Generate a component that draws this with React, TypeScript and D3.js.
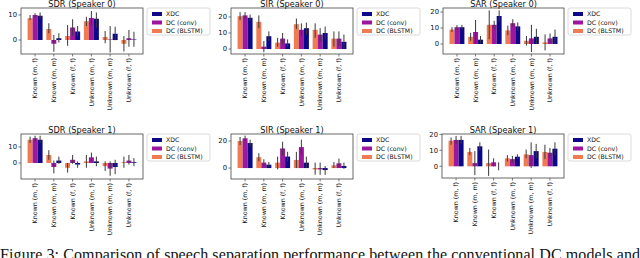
import React from 'react';
import * as d3 from 'd3';

// categories and series
const groups = ['Known (m, f)', 'Known (m, m)', 'Known (f, f)', 'Unknown (m, f)', 'Unknown (m, m)', 'Unknown (f, f)'];
const seriesNames = ['DC (BLSTM)', 'DC (conv)', 'XDC'];
const legendOrder = ['XDC', 'DC (conv)', 'DC (BLSTM)'];
const colors: Record<string, string> = { 'XDC': '#0d0887', 'DC (conv)': '#9c179e', 'DC (BLSTM)': '#f07a51' };

// values: [BLSTM, conv, XDC] per group, errors as [lo, hi]
const sdr0 = [[8.7, 10, 9.7], [4.4, -1.5, 0.7], [1.6, 5, 3.4], [7.5, 8.8, 8.5], [1.2, 0.2, 2.5], [-1.5, 0.7, 0.2]];
const sdr0Err = [[[8, 10], [9, 10.7], [8.4, 11]], [[2.7, 6.7], [-4.7, 2], [-1, 2.7]], [[-2.3, 6], [1.7, 8.3], [1.7, 5.6]], [[5.6, 9.3], [5.7, 11.6], [5, 11]], [[-1.3, 3.6], [-5, 5.6], [-0.1, 5.3]], [[-4.6, 1.6], [-2.7, 4], [-2.7, 3.3]]];

const sir0 = [[20.5, 21, 19.5], [17, 1.5, 8], [4, 6.5, 3.5], [15.5, 12, 13], [12, 9, 10], [6.5, 6.5, 4.5]];
const sir0Err = [[[18, 23], [19, 23], [17.5, 21.5]], [[13, 21], [-2, 5], [5, 11]], [[1.5, 7], [3, 10], [1.5, 6]], [[12.5, 19], [8, 16], [9, 16.5]], [[7, 16], [5, 13], [6, 14]], [[1.5, 11], [2, 11], [0, 9]]];

const sar0 = [[9, 10.5, 10.5], [4.5, 7.5, 2.7], [12, 12, 17.5], [8.5, 13, 11], [2, 3.5, 4.5], [1, 3.5, 4.5]];
const sar0Err = [[[7.5, 10.5], [9, 11.8], [9, 12]], [[2, 7], [0, 15], [0.5, 5]], [[3, 21], [9.5, 14.5], [14, 21]], [[5.5, 11.5], [11, 15.5], [8.5, 13.5]], [[-1, 5], [-5, 12], [0, 9.5]], [[-4, 6], [1, 6.5], [0, 9]]];

const sdr1 = [[14.5, 15.5, 14.5], [5, -2.5, 1.5], [-3, 2, -1], [1, 3.5, 1], [-2, -3.5, -2.5], [0.5, 1.5, 0.5]];
const sdr1Err = [[[12.5, 16.5], [13.5, 17], [12.5, 17]], [[2, 8], [-6.5, 1.5], [-0.5, 4]], [[-6, 0], [-0.5, 5], [-3, 1]], [[-3, 5], [1, 6.5], [-2, 4]], [[-5, 1], [-8, 1], [-7, 2]], [[-3, 4], [-1, 5], [-2, 3]]];

const sir1 = [[20, 22, 18.5], [8, 4, 2.5], [4, 14.5, 8.5], [6, 15.5, 4], [-1, -1, -1.5], [2, 3.5, 1.5]];
const sir1Err = [[[17, 23], [20, 24], [16, 21]], [[5, 11], [1.5, 6.5], [0.5, 4.5]], [[-1, 8.5], [9.5, 19.5], [5, 12]], [[0, 12], [10, 21], [0, 8.5]], [[-5, 4], [-5, 4], [-5, 1.5]], [[0, 4.5], [0.5, 7], [-0.5, 4]]];

const sar1 = [[16, 16.5, 16.5], [9, 2, 12.5], [2, 2.5, 0], [5, 4.5, 6], [7.5, 7, 9.5], [9, 8.5, 11]];
const sar1Err = [[[13.5, 18], [14, 19], [14, 19]], [[7, 11.5], [-5.5, 9.5], [10, 15]], [[-6, 10.5], [0, 5], [-2.5, 2.5]], [[3, 7], [2.5, 6.5], [4.5, 7.5]], [[5, 10.5], [-1, 15], [5, 14]], [[4.5, 13.5], [5.5, 11.5], [7, 15]]];

const caption = 'Figure 3: Comparison of speech separation performance between the conventional DC models and';

interface PanelDef {
  title: string;
  values: number[][];
  errs: number[][][];
  yDomain: [number, number];
  yTicks: number[];
  x0: number; x1: number; y0: number; y1: number;
}

const panels: PanelDef[] = [
  { title: 'SDR (Speaker 0)', values: sdr0, errs: sdr0Err, yDomain: [-5.6, 12.8], yTicks: [0, 10], x0: 21, x1: 143, y0: 8, y1: 54 },
  { title: 'SIR (Speaker 0)', values: sir0, errs: sir0Err, yDomain: [-3.1, 25.6], yTicks: [0, 10, 20], x0: 231, x1: 353, y0: 8, y1: 54 },
  { title: 'SAR (Speaker 0)', values: sar0, errs: sar0Err, yDomain: [-6.25, 22.5], yTicks: [0, 10, 20], x0: 443, x1: 564, y0: 8, y1: 54 },
  { title: 'SDR (Speaker 1)', values: sdr1, errs: sdr1Err, yDomain: [-10, 18.1], yTicks: [0, 10], x0: 21, x1: 143, y0: 134, y1: 179 },
  { title: 'SIR (Speaker 1)', values: sir1, errs: sir1Err, yDomain: [-8.1, 25.2], yTicks: [0, 20], x0: 231, x1: 353, y0: 134, y1: 179 },
  { title: 'SAR (Speaker 1)', values: sar1, errs: sar1Err, yDomain: [-7.3, 20.2], yTicks: [0, 10, 20], x0: 442, x1: 564, y0: 134, y1: 178 },
];

const FONT = 'DejaVu Sans, sans-serif';

const Panel: React.FC<{ p: PanelDef }> = ({ p }) => {
  const x = d3.scaleLinear().domain([-0.75, groups.length - 0.25]).range([p.x0, p.x1]);
  const y = d3.scaleLinear().domain(p.yDomain).range([p.y1, p.y0]);
  const bw = 0.8 / 3;
  const px = (v: number) => Math.abs(x(v) - x(0));
  const lx = p.x1 + 4;
  const ly = p.y0;

  return (
    <g>
      {/* bars */}
      {groups.map((g, gi) =>
        seriesNames.map((s, si) => {
          const v = p.values[gi][si];
          const cx = gi - 0.4 + bw * (si + 0.5);
          return (
            <rect key={g + s} x={x(cx - bw / 2)} width={px(bw)}
              y={Math.min(y(v), y(0))} height={Math.abs(y(v) - y(0))}
              fill={colors[s]} />
          );
        })
      )}
      {/* error bars */}
      {groups.map((g, gi) =>
        seriesNames.map((s, si) => {
          const [lo, hi] = p.errs[gi][si];
          const cx = x(gi - 0.4 + bw * (si + 0.5));
          return <line key={'e' + g + s} x1={cx} x2={cx} y1={y(lo)} y2={y(hi)} stroke="#3a3a3a" strokeWidth={1} />;
        })
      )}
      {/* frame */}
      <rect x={p.x0} y={p.y0} width={p.x1 - p.x0} height={p.y1 - p.y0} fill="none" stroke="#444" strokeWidth={0.8} />
      {/* y ticks */}
      {p.yTicks.map(t => (
        <g key={t}>
          <line x1={p.x0 - 2.5} x2={p.x0} y1={y(t)} y2={y(t)} stroke="#444" strokeWidth={0.7} />
          <text x={p.x0 - 4} y={y(t)} dy="0.35em" fontSize={6.8} fontFamily={FONT} textAnchor="end" fill="#111">{t}</text>
        </g>
      ))}
      {/* x ticks */}
      {groups.map((g, gi) => (
        <g key={'x' + g}>
          <line x1={x(gi)} x2={x(gi)} y1={p.y1} y2={p.y1 + 2.5} stroke="#444" strokeWidth={0.7} />
          <text transform={`translate(${x(gi)},${p.y1 + 4}) rotate(-90)`} dy="0.35em" fontSize={6.3}
            fontFamily={FONT} textAnchor="end" fill="#111">{g}</text>
        </g>
      ))}
      {/* title */}
      <text x={(p.x0 + p.x1) / 2} y={p.y0 - 0.8} fontSize={8.2} fontFamily={FONT} textAnchor="middle" fill="#111">{p.title}</text>
      {/* legend */}
      <rect x={lx} y={ly} width={63} height={27} rx={2} fill="#fff" stroke="#d0d0d0" strokeWidth={0.8} />
      {legendOrder.map((s, i) => (
        <g key={'l' + s}>
          <rect x={lx + 5} y={ly + 4 + i * 8.5} width={10} height={4} fill={colors[s]} />
          <text x={lx + 19} y={ly + 6 + i * 8.5} dy="0.35em" fontSize={6.2} fontFamily={FONT} fill="#111">{s}</text>
        </g>
      ))}
    </g>
  );
};

export default function App() {
  return (
    <svg width={640} height={258} style={{ position: 'absolute', left: 0, top: 0, background: '#fff' }}>
      <rect width={640} height={258} fill="#fff" />
      {panels.map(p => <Panel key={p.title} p={p} />)}
      <text x={0} y={260} fontSize={16} fontFamily="Liberation Serif, serif" textLength={640} lengthAdjust="spacing" fill="#111">{caption}</text>
    </svg>
  );
}
